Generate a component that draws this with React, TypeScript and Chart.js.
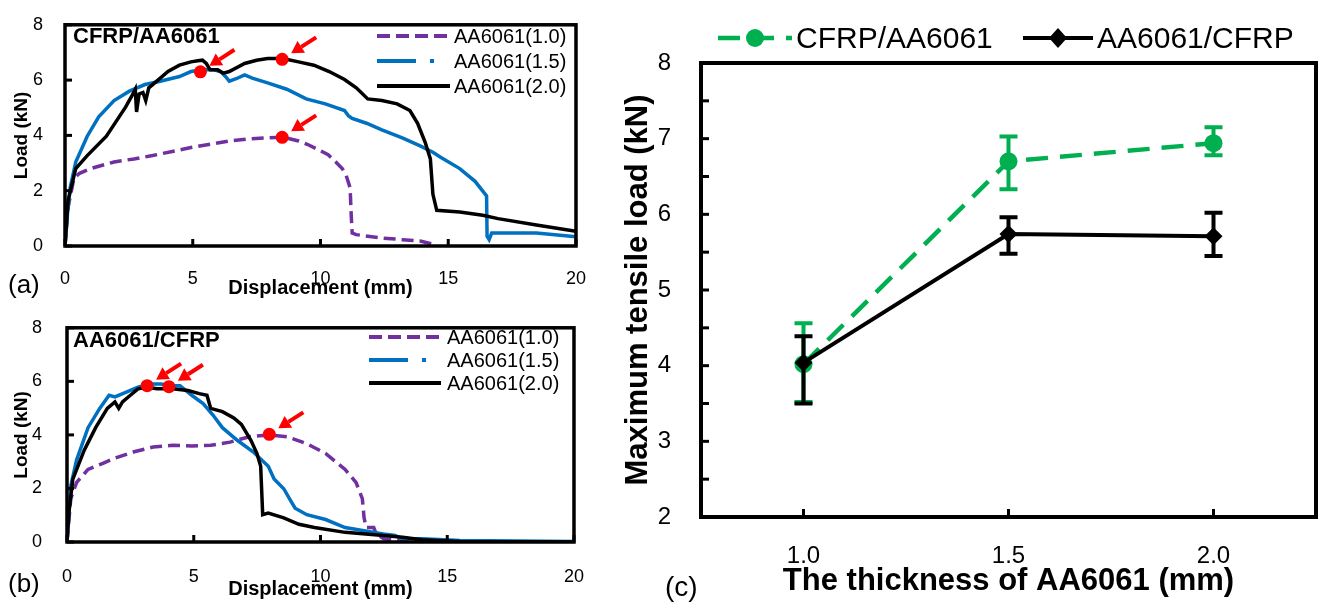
import React, { useEffect, useRef } from 'react';
import { Chart, registerables } from 'chart.js';

Chart.register(...registerables);

const FONT = "'Liberation Sans', Arial, Helvetica, sans-serif";

// ---------- Panel (a): CFRP/AA6061 ----------
const a10X = [0, 0.12, 0.35, 0.57, 1.0, 1.92, 2.7, 3.43, 4.2, 4.93, 5.7, 6.43, 7.2, 7.93, 8.53, 9.14, 9.5, 9.88, 10.3, 10.6, 10.85, 11.0, 11.16, 11.2, 11.24, 11.4, 12.4, 13.2, 13.9, 14.5];
const a10Y = [0, 1.4, 2.45, 2.63, 2.8, 3.04, 3.15, 3.27, 3.42, 3.56, 3.68, 3.8, 3.87, 3.91, 3.94, 3.8, 3.67, 3.5, 3.3, 3.04, 2.8, 2.57, 2.1, 1.17, 0.47, 0.41, 0.29, 0.23, 0.18, 0.04];
const a15X = [0, 0.1, 0.2, 0.42, 0.87, 1.32, 1.92, 2.52, 3.13, 3.73, 4.48, 4.93, 5.38, 5.83, 6.1, 6.28, 6.43, 6.7, 7.03, 7.33, 7.93, 8.68, 9.44, 10.19, 10.94, 11.1, 11.24, 11.8, 12.4, 13.2, 13.9, 14.4, 14.7, 15.45, 16.05, 16.5, 16.52, 16.6, 16.7, 17.5, 18.45, 20];
const a15Y = [0, 1.2, 2.1, 3.04, 3.97, 4.67, 5.26, 5.6, 5.84, 5.96, 6.13, 6.31, 6.37, 6.37, 6.3, 6.13, 5.96, 6.05, 6.19, 6.07, 5.9, 5.67, 5.32, 5.14, 4.9, 4.7, 4.61, 4.44, 4.2, 3.91, 3.62, 3.39, 3.21, 2.8, 2.34, 1.81, 0.35, 0.23, 0.47, 0.47, 0.47, 0.33];
const a20X = [0, 0.12, 0.42, 0.87, 1.62, 2.37, 2.6, 2.75, 2.8, 2.9, 3.05, 3.16, 3.28, 3.73, 4.03, 4.48, 4.93, 5.2, 5.38, 5.53, 5.68, 5.98, 6.2, 6.43, 7.03, 7.5, 7.93, 8.53, 9.14, 9.74, 10.34, 10.94, 11.4, 11.85, 12.4, 13.0, 13.5, 13.8, 14.1, 14.3, 14.4, 14.55, 15.45, 16.35, 16.95, 18.45, 20];
const a20Y = [0, 1.64, 2.8, 3.27, 3.97, 5.02, 5.4, 5.67, 4.85, 5.5, 5.55, 5.26, 5.72, 6.07, 6.31, 6.54, 6.66, 6.7, 6.72, 6.6, 6.37, 6.37, 6.25, 6.31, 6.6, 6.72, 6.78, 6.78, 6.66, 6.54, 6.31, 6.02, 5.72, 5.32, 5.26, 5.14, 4.9, 4.44, 3.74, 3.15, 1.87, 1.29, 1.23, 1.11, 0.99, 0.76, 0.53];
const aPeakX = [5.3, 8.5, 8.5];
const aPeakY = [6.3, 6.75, 3.93];

// ---------- Panel (b): AA6061/CFRP ----------
const b10X = [0, 0.15, 0.38, 0.83, 1.44, 1.89, 2.65, 3.4, 4.16, 4.92, 5.67, 6.43, 7.19, 8.0, 8.7, 9.46, 10.2, 10.97, 11.4, 11.65, 11.72, 11.8, 12.1, 12.2, 12.5, 13.2, 14, 20];
const b10Y = [0, 1.62, 2.23, 2.71, 2.95, 3.13, 3.37, 3.55, 3.61, 3.59, 3.61, 3.73, 3.93, 4.0, 3.93, 3.67, 3.31, 2.71, 2.23, 1.62, 0.9, 0.54, 0.54, 0.3, 0.12, 0.03, 0, 0];
const b15X = [0, 0.15, 0.38, 0.83, 1.29, 1.66, 1.89, 2.34, 2.8, 3.25, 3.71, 4.08, 4.46, 4.92, 5.37, 5.75, 6.13, 6.73, 7.34, 7.94, 8.17, 8.55, 8.85, 9.0, 9.46, 10.2, 10.97, 11.72, 12.48, 12.94, 13.24, 14, 15.5, 20];
const b15Y = [0, 2.1, 3.07, 4.27, 4.99, 5.48, 5.42, 5.6, 5.78, 5.9, 5.9, 5.84, 5.84, 5.48, 5.17, 4.75, 4.27, 3.79, 3.37, 2.83, 2.35, 1.99, 1.5, 1.26, 1.02, 0.84, 0.54, 0.42, 0.3, 0.24, 0.12, 0.12, 0.06, 0.02];
const b20X = [0, 0.08, 0.23, 0.68, 1.13, 1.59, 1.89, 2.04, 2.19, 2.5, 2.8, 3.18, 3.55, 4.16, 4.77, 5.22, 5.52, 5.67, 6.13, 6.58, 6.88, 7.26, 7.49, 7.64, 7.72, 7.94, 8.55, 9.15, 9.76, 10.97, 12.48, 13.24, 14, 15.5, 20];
const b20Y = [0, 1.14, 2.35, 3.43, 4.27, 4.99, 5.23, 4.99, 5.23, 5.48, 5.72, 5.78, 5.72, 5.72, 5.66, 5.54, 5.48, 4.99, 4.87, 4.63, 4.39, 3.79, 3.31, 2.83, 1.02, 1.08, 0.9, 0.66, 0.54, 0.36, 0.24, 0.18, 0.08, 0.02, 0];
const bPeakX = [3.16, 4.02, 7.98];
const bPeakY = [5.84, 5.8, 4.02];

const curveLabels = ['AA6061(1.0)', 'AA6061(1.5)', 'AA6061(2.0)'];
const dispMin = 0;
const dispMax = 20;
const dispStep = 5;
const loadMin = 0;
const loadMax = 8;
const loadStep = 2;

// ---------- Panel (c): maximum tensile load ----------
const thicknessLabels = ['1.0', '1.5', '2.0'];
const seriesNames = ['CFRP/AA6061', 'AA6061/CFRP'];
const cfrpAlMean = [4.02, 6.7, 6.94];
const cfrpAlLow = [3.52, 6.33, 6.78];
const cfrpAlHigh = [4.56, 7.03, 7.15];
const alCfrpMean = [4.04, 5.74, 5.71];
const alCfrpLow = [3.5, 5.48, 5.45];
const alCfrpHigh = [4.39, 5.96, 6.02];
const maxLoadMin = 2;
const maxLoadMax = 8;
const maxLoadStep = 1;

const PURPLE = '#7030a0';
const BLUE = '#0070c0';
const BLACK = '#000000';
const RED = '#ff0000';
const GREEN = '#00b050';

const curveStyles = [
  { color: PURPLE, dash: [12, 6], legendDash: [13, 6], order: 3 },
  { color: BLUE, dash: [], legendDash: [39, 14, 4, 200], order: 2 },
  { color: BLACK, dash: [], legendDash: [], order: 1 },
];

const pts = (xs: number[], ys: number[]) => xs.map((x, i) => ({ x, y: ys[i] }));

function buildLoadChart(canvas: HTMLCanvasElement, p: any) {
  const decor = {
    id: 'decor',
    afterDatasetsDraw(chart: any) {
      const ctx = chart.ctx;
      const meta = chart.getDatasetMeta(3);
      ctx.save();
      ctx.strokeStyle = RED;
      ctx.fillStyle = RED;
      ctx.lineWidth = 4;
      meta.data.forEach((el: any) => {
        const tipX = el.x + 9, tipY = el.y - 6;
        const tailX = el.x + 34, tailY = el.y - 22;
        const ang = Math.atan2(tipY - tailY, tipX - tailX);
        const headLen = 12, headW = 7;
        const bx = tipX - headLen * Math.cos(ang), by = tipY - headLen * Math.sin(ang);
        ctx.beginPath();
        ctx.moveTo(tailX, tailY);
        ctx.lineTo(bx, by);
        ctx.stroke();
        ctx.beginPath();
        ctx.moveTo(tipX, tipY);
        ctx.lineTo(bx + headW * Math.sin(ang), by - headW * Math.cos(ang));
        ctx.lineTo(bx - headW * Math.sin(ang), by + headW * Math.cos(ang));
        ctx.closePath();
        ctx.fill();
      });
      ctx.restore();
    },
    afterDraw(chart: any) {
      const { ctx, chartArea: ca, scales } = chart;
      ctx.save();
      ctx.strokeStyle = '#000';
      ctx.lineWidth = 3;
      scales.x.ticks.forEach((t: any) => {
        const px = scales.x.getPixelForValue(t.value);
        ctx.beginPath();
        ctx.moveTo(px, ca.bottom);
        ctx.lineTo(px, ca.bottom - 7);
        ctx.stroke();
      });
      scales.y.ticks.forEach((t: any) => {
        const py = scales.y.getPixelForValue(t.value);
        ctx.beginPath();
        ctx.moveTo(ca.left, py);
        ctx.lineTo(ca.left + 7, py);
        ctx.stroke();
      });
      ctx.lineWidth = 3.5;
      ctx.strokeRect(ca.left, ca.top, ca.right - ca.left, ca.bottom - ca.top);

      ctx.fillStyle = '#000';
      ctx.textAlign = 'left';
      ctx.textBaseline = 'alphabetic';
      ctx.font = `bold 22px ${FONT}`;
      ctx.fillText(p.title, p.titleX, p.titleY);

      ctx.font = `26px ${FONT}`;
      ctx.fillText(p.letter, p.letterX, p.letterY);

      // legend
      ctx.font = `20px ${FONT}`;
      ctx.textBaseline = 'middle';
      curveLabels.forEach((lab, i) => {
        const y = p.legendRows[i];
        const st = curveStyles[i];
        ctx.strokeStyle = st.color;
        ctx.lineWidth = 4;
        ctx.setLineDash(st.legendDash);
        ctx.beginPath();
        ctx.moveTo(p.legendX0, y);
        ctx.lineTo(p.legendX1, y);
        ctx.stroke();
        ctx.setLineDash([]);
        ctx.fillStyle = '#000';
        ctx.fillText(lab, p.legendTextX, y + 1);
      });
      ctx.restore();
    },
  };

  const W = p.W, H = p.H, A = p.area;
  return new Chart(canvas, {
    type: 'line',
    data: {
      datasets: [
        ...p.series.map((s: any, i: number) => ({
          label: curveLabels[i],
          data: pts(s.xs, s.ys),
          borderColor: curveStyles[i].color,
          borderDash: curveStyles[i].dash,
          borderWidth: 3.5,
          pointRadius: 0,
          tension: 0,
          fill: false,
          order: curveStyles[i].order,
        })),
        {
          type: 'scatter',
          label: 'peak',
          data: pts(p.peakX, p.peakY),
          pointRadius: 6.5,
          pointBackgroundColor: RED,
          pointBorderColor: RED,
          pointBorderWidth: 0,
          showLine: false,
          order: 0,
        },
      ],
    },
    options: {
      responsive: false,
      animation: false,
      devicePixelRatio: 1,
      layout: { padding: { left: 0, top: A.top, right: W - A.right, bottom: 0 } },
      plugins: { legend: { display: false }, tooltip: { enabled: false } },
      scales: {
        x: {
          type: 'linear',
          min: dispMin,
          max: dispMax,
          ticks: { stepSize: dispStep, padding: p.xTickPad, color: '#000', font: { family: FONT, size: 18 }, maxRotation: 0, autoSkip: false },
          grid: { display: false },
          border: { display: false },
          title: { display: true, text: 'Displacement (mm)', color: '#000', font: { family: FONT, size: 20, weight: 'bold' }, padding: { top: 0, bottom: p.xTitlePad } },
          afterFit: (s: any) => { s.height = H - A.bottom; },
        },
        y: {
          type: 'linear',
          min: loadMin,
          max: loadMax,
          ticks: { stepSize: loadStep, padding: p.yTickPad, color: '#000', font: { family: FONT, size: 18 } },
          grid: { display: false },
          border: { display: false },
          title: { display: true, text: 'Load (kN)', color: '#000', font: { family: FONT, size: 19, weight: 'bold' }, padding: { top: 10, bottom: 0 } },
          afterFit: (s: any) => { s.width = A.left; },
        },
      },
    },
    plugins: [decor],
  } as any);
}

function buildMaxChart(canvas: HTMLCanvasElement) {
  const W = 725, H = 605;
  const A = { left: 101, top: 63, right: 722, bottom: 517 };
  const lows = [cfrpAlLow, alCfrpLow];
  const highs = [cfrpAlHigh, alCfrpHigh];
  const colors = [GREEN, BLACK];
  const decor = {
    id: 'decorC',
    beforeDatasetDraw(chart: any, args: any) {
      const i = args.index;
      const ctx = chart.ctx;
      const xs = chart.scales.x, ys = chart.scales.y;
      ctx.save();
      ctx.strokeStyle = colors[i];
      ctx.lineWidth = 4;
      thicknessLabels.forEach((_, k) => {
        const px = xs.getPixelForValue(k);
        const yl = ys.getPixelForValue(lows[i][k]);
        const yh = ys.getPixelForValue(highs[i][k]);
        ctx.beginPath();
        ctx.moveTo(px, yl); ctx.lineTo(px, yh);
        ctx.moveTo(px - 9, yl); ctx.lineTo(px + 9, yl);
        ctx.moveTo(px - 9, yh); ctx.lineTo(px + 9, yh);
        ctx.stroke();
      });
      ctx.restore();
    },
    afterDraw(chart: any) {
      const { ctx, chartArea: ca, scales } = chart;
      ctx.save();
      ctx.strokeStyle = '#000';
      ctx.lineWidth = 3;
      thicknessLabels.forEach((_, k) => {
        const px = scales.x.getPixelForValue(k);
        ctx.beginPath();
        ctx.moveTo(px, ca.bottom);
        ctx.lineTo(px, ca.bottom - 8);
        ctx.stroke();
      });
      for (let v = maxLoadMin + 0.5; v < maxLoadMax; v += 0.5) {
        const py = scales.y.getPixelForValue(v);
        ctx.beginPath();
        ctx.moveTo(ca.left, py);
        ctx.lineTo(ca.left + 8, py);
        ctx.stroke();
      }
      ctx.lineWidth = 4;
      ctx.strokeRect(ca.left, ca.top, ca.right - ca.left, ca.bottom - ca.top);

      // legend
      const ly = 38;
      ctx.strokeStyle = GREEN;
      ctx.lineWidth = 4.5;
      ctx.setLineDash([22, 12]);
      ctx.beginPath(); ctx.moveTo(118, ly); ctx.lineTo(192, ly); ctx.stroke();
      ctx.setLineDash([]);
      ctx.fillStyle = GREEN;
      ctx.beginPath(); ctx.arc(155, ly, 9, 0, Math.PI * 2); ctx.fill();
      ctx.strokeStyle = BLACK;
      ctx.lineWidth = 4;
      ctx.beginPath(); ctx.moveTo(423, ly); ctx.lineTo(493, ly); ctx.stroke();
      ctx.fillStyle = BLACK;
      ctx.beginPath();
      ctx.moveTo(458, ly - 10); ctx.lineTo(467, ly); ctx.lineTo(458, ly + 10); ctx.lineTo(449, ly);
      ctx.closePath(); ctx.fill();
      ctx.font = `30px ${FONT}`;
      ctx.textBaseline = 'middle';
      ctx.textAlign = 'left';
      ctx.fillText(seriesNames[0], 196, ly + 2);
      ctx.fillText(seriesNames[1], 497, ly + 2);

      ctx.font = `28px ${FONT}`;
      ctx.textBaseline = 'alphabetic';
      ctx.fillText('(c)', 65, 596);
      ctx.restore();
    },
  };

  return new Chart(canvas, {
    type: 'line',
    data: {
      labels: thicknessLabels,
      datasets: [
        {
          label: seriesNames[0],
          data: cfrpAlMean,
          borderColor: GREEN,
          borderWidth: 4.5,
          borderDash: [22, 12],
          pointStyle: 'circle',
          pointRadius: 9,
          pointBackgroundColor: GREEN,
          pointBorderColor: GREEN,
          pointBorderWidth: 0,
          tension: 0,
          fill: false,
          order: 1,
        },
        {
          label: seriesNames[1],
          data: alCfrpMean,
          borderColor: BLACK,
          borderWidth: 4,
          pointStyle: 'rectRot',
          pointRadius: 9,
          pointBackgroundColor: BLACK,
          pointBorderColor: BLACK,
          pointBorderWidth: 0,
          tension: 0,
          fill: false,
          order: 0,
        },
      ],
    },
    options: {
      responsive: false,
      animation: false,
      devicePixelRatio: 1,
      layout: { padding: { left: 0, top: A.top, right: W - A.right, bottom: 0 } },
      plugins: { legend: { display: false }, tooltip: { enabled: false } },
      scales: {
        x: {
          type: 'category',
          offset: true,
          ticks: { padding: 17, color: '#000', font: { family: FONT, size: 24 }, maxRotation: 0 },
          grid: { display: false, offset: true },
          border: { display: false },
          title: { display: true, text: 'The thickness of AA6061 (mm)', color: '#000', font: { family: FONT, size: 31, weight: 'bold' }, padding: { top: 0, bottom: 5 } },
          afterFit: (s: any) => { s.height = H - A.bottom; },
        },
        y: {
          type: 'linear',
          min: maxLoadMin,
          max: maxLoadMax,
          ticks: { stepSize: maxLoadStep, padding: 22, color: '#000', font: { family: FONT, size: 24 } },
          grid: { display: false },
          border: { display: false },
          title: { display: true, text: 'Maximum tensile load (kN)', color: '#000', font: { family: FONT, size: 31, weight: 'bold' }, padding: { top: 20, bottom: 0 } },
          afterFit: (s: any) => { s.width = A.left; },
        },
      },
    },
    plugins: [decor],
  } as any);
}

export default function App() {
  const refA = useRef<HTMLCanvasElement>(null);
  const refB = useRef<HTMLCanvasElement>(null);
  const refC = useRef<HTMLCanvasElement>(null);

  useEffect(() => {
    const ca = buildLoadChart(refA.current!, {
      W: 600, H: 300,
      area: { left: 65, top: 18, right: 577, bottom: 246 },
      series: [{ xs: a10X, ys: a10Y }, { xs: a15X, ys: a15Y }, { xs: a20X, ys: a20Y }],
      peakX: aPeakX, peakY: aPeakY,
      title: 'CFRP/AA6061', titleX: 73, titleY: 43,
      letter: '(a)', letterX: 8, letterY: 293,
      legendRows: [36, 61, 86], legendX0: 377, legendX1: 450, legendTextX: 454,
      xTickPad: 14, yTickPad: 14, xTitlePad: 0,
    });
    const cb = buildLoadChart(refB.current!, {
      W: 600, H: 305,
      area: { left: 67, top: 20, right: 576, bottom: 242 },
      series: [{ xs: b10X, ys: b10Y }, { xs: b15X, ys: b15Y }, { xs: b20X, ys: b20Y }],
      peakX: bPeakX, peakY: bPeakY,
      title: 'AA6061/CFRP', titleX: 73, titleY: 47,
      letter: '(b)', letterX: 8, letterY: 292,
      legendRows: [37, 60, 83], legendX0: 369, legendX1: 441, legendTextX: 447,
      xTickPad: 16, yTickPad: 17, xTitlePad: 4,
    });
    const cc = buildMaxChart(refC.current!);
    return () => { ca.destroy(); cb.destroy(); cc.destroy(); };
  }, []);

  return (
    <div style={{ position: 'absolute', left: 0, top: 0, width: 1325, height: 605, background: '#fff', overflow: 'hidden' }}>
      <canvas ref={refA} width={600} height={300} style={{ position: 'absolute', left: 0, top: 0 }} />
      <canvas ref={refB} width={600} height={305} style={{ position: 'absolute', left: 0, top: 300 }} />
      <canvas ref={refC} width={725} height={605} style={{ position: 'absolute', left: 600, top: 0 }} />
    </div>
  );
}
